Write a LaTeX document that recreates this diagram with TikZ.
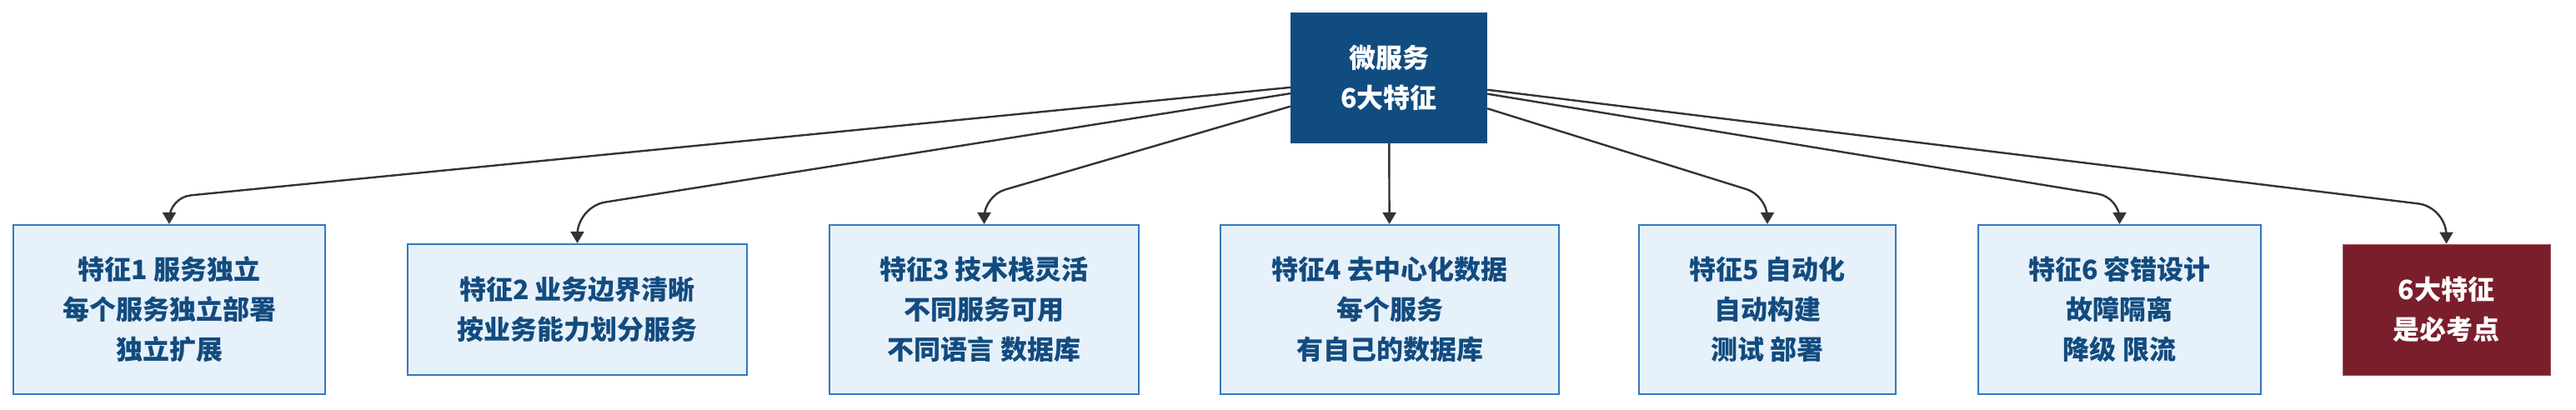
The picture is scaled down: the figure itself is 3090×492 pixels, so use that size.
\documentclass[tikz,border=0pt]{standalone}
\usepackage{fontspec}
\usepackage{xcolor}
\usepackage{tikz}
\usetikzlibrary{positioning, arrows.meta, calc}
\newfontfamily\cjk{Noto Sans CJK SC}

\definecolor{rootfill}{HTML}{114C80}
\definecolor{featfill}{HTML}{E7F1FA}
\definecolor{featline}{HTML}{3478C0}
\definecolor{feattext}{HTML}{124B7F}
\definecolor{examfill}{HTML}{7A1E2C}
\definecolor{examline}{HTML}{A05660}
\definecolor{flowline}{HTML}{333333}

\begin{document}
\begin{tikzpicture}[
        x=1pt, y=-1pt,
        % Define styles for the diagram elements
        rootbox/.style={rectangle, fill=rootfill, text=white, minimum width=236pt, minimum height=157pt, inner sep=0pt, align=center, font=\cjk\bfseries\fontsize{32}{48}\selectfont},
        feat/.style={rectangle, draw=featline, fill=featfill, line width=2.2pt, text=feattext, minimum height=203pt, inner sep=0pt, align=center, font=\cjk\bfseries\fontsize{32}{48}\selectfont},
        exambox/.style={rectangle, draw=examline, fill=examfill, line width=1pt, text=white, minimum width=249pt, minimum height=157pt, inner sep=0pt, align=center, font=\cjk\bfseries\fontsize{32}{48}\selectfont},
        flow/.style={draw=flowline, line width=2.4pt, rounded corners=26pt, -{Triangle[width=16pt, length=14pt]}}
    ]
        \useasboundingbox (0,0) rectangle (3090,492);

        % --------------------------------------------------------
        % Root
        % --------------------------------------------------------
        \node[rootbox] (micro) at (1666,93.5) {微服务\\6大特征};

        % --------------------------------------------------------
        % Six features
        % --------------------------------------------------------
        \node[feat, minimum width=374pt] (feat1) at (203,371.5) {特征1 服务独立\\每个服务独立部署\\独立扩展};
        \node[feat, minimum width=407pt, minimum height=157pt] (feat2) at (692.5,371.5) {特征2 业务边界清晰\\按业务能力划分服务};
        \node[feat, minimum width=371pt] (feat3) at (1180.5,371.5) {特征3 技术栈灵活\\不同服务可用\\不同语言 数据库};
        \node[feat, minimum width=406pt] (feat4) at (1667,371.5) {特征4 去中心化数据\\每个服务\\有自己的数据库};
        \node[feat, minimum width=308pt] (feat5) at (2120,371.5) {特征5 自动化\\自动构建\\测试 部署};
        \node[feat, minimum width=339pt] (feat6) at (2542.5,371.5) {特征6 容错设计\\故障隔离\\降级 限流};

        % Key point
        \node[exambox] (exam) at (2934.5,371.5) {6大特征\\是必考点};

        % --------------------------------------------------------
        % Connectors
        % --------------------------------------------------------
        \draw[flow] (micro) -- ([yshift=32pt]feat1.north) -- (feat1.north);
        \draw[flow, rounded corners=34pt] (micro) -- ([yshift=44pt]feat2.north) -- (feat2.north);
        \draw[flow] (micro) -- ([yshift=34pt]feat3.north) -- (feat3.north);
        \draw[flow] (micro) -- (feat4);
        \draw[flow] (micro) -- ([yshift=34pt]feat5.north) -- (feat5.north);
        \draw[flow] (micro) -- ([yshift=32pt]feat6.north) -- (feat6.north);
        \draw[flow, rounded corners=34pt] (micro) -- ([yshift=44pt]exam.north) -- (exam.north);

    \end{tikzpicture}
\end{document}
